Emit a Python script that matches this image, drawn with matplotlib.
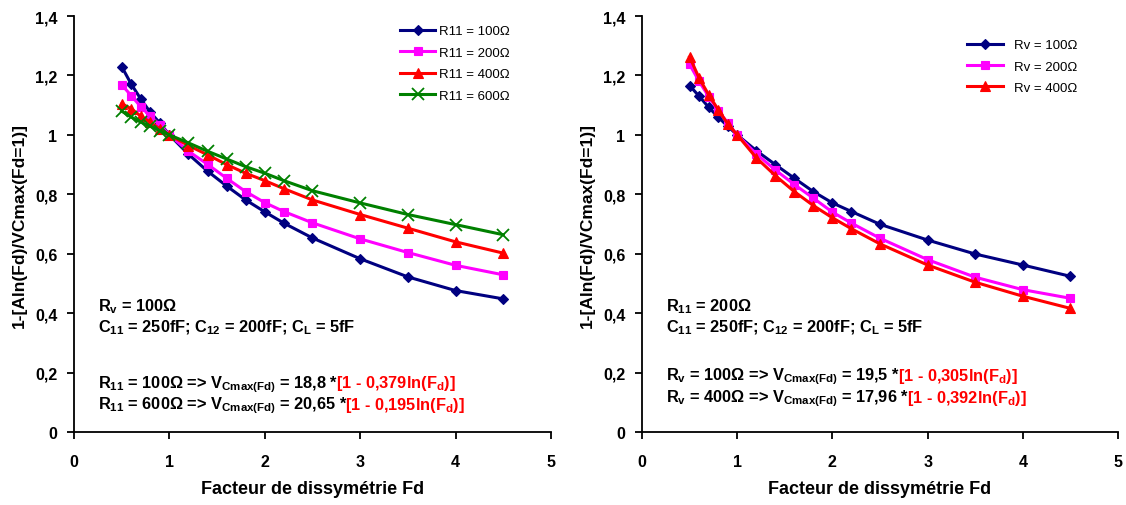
import numpy as np
import matplotlib
matplotlib.use('Agg')
import matplotlib.pyplot as plt
from matplotlib.ticker import FuncFormatter, MultipleLocator

plt.rcParams['font.family'] = ['Liberation Sans', 'DejaVu Sans']
plt.rcParams['mathtext.fontset'] = 'custom'
plt.rcParams['mathtext.bf'] = 'Liberation Sans:bold'
plt.rcParams['mathtext.rm'] = 'Liberation Sans:bold'
plt.rcParams['mathtext.it'] = 'Liberation Sans:bold'
plt.rcParams['mathtext.default'] = 'bf'

# Facteur de dissymetrie
fd = [0.5, 0.6, 0.7, 0.8, 0.9, 1.0, 1.2, 1.4, 1.6, 1.8, 2.0, 2.2, 2.5, 3.0, 3.5, 4.0, 4.5]

# left panel: Rv = 100 ohm, varying R11
r11_100 = [1.230, 1.171, 1.121, 1.076, 1.040, 1.0, 0.935, 0.878, 0.828, 0.781, 0.741, 0.703, 0.653, 0.583, 0.522, 0.476, 0.448]
r11_200 = [1.169, 1.132, 1.095, 1.063, 1.034, 1.0, 0.945, 0.901, 0.854, 0.809, 0.772, 0.742, 0.704, 0.650, 0.604, 0.561, 0.529]
r11_400 = [1.105, 1.088, 1.063, 1.043, 1.020, 1.0, 0.964, 0.933, 0.900, 0.871, 0.846, 0.819, 0.781, 0.732, 0.686, 0.640, 0.602]
r11_600 = [1.080, 1.060, 1.043, 1.029, 1.014, 1.0, 0.973, 0.945, 0.919, 0.893, 0.871, 0.846, 0.812, 0.771, 0.732, 0.698, 0.664]

# right panel: R11 = 200 ohm, varying Rv
rv_100 = [1.166, 1.130, 1.093, 1.060, 1.029, 1.0, 0.947, 0.900, 0.854, 0.809, 0.771, 0.742, 0.699, 0.646, 0.599, 0.562, 0.524]
rv_200 = [1.237, 1.180, 1.129, 1.082, 1.040, 1.0, 0.936, 0.882, 0.833, 0.787, 0.740, 0.703, 0.652, 0.580, 0.521, 0.479, 0.450]
rv_400 = [1.262, 1.191, 1.135, 1.085, 1.037, 1.0, 0.923, 0.863, 0.809, 0.762, 0.721, 0.684, 0.633, 0.562, 0.504, 0.457, 0.416]

left_series = [
    ('R11 = 100Ω', r11_100, '#000080', 'D', 5),
    ('R11 = 200Ω', r11_200, '#FF00FF', 's', 6),
    ('R11 = 400Ω', r11_400, '#FF0000', '^', 7),
    ('R11 = 600Ω', r11_600, '#008000', 'x', 9),
]
right_series = [
    ('Rv = 100Ω', rv_100, '#000080', 'D', 5),
    ('Rv = 200Ω', rv_200, '#FF00FF', 's', 6),
    ('Rv = 400Ω', rv_400, '#FF0000', '^', 7),
]

left_notes = [
    (0.411, r'R$_{v}$ = 100Ω', None),
    (0.340, r'C$_{11}$ = 250fF; C$_{12}$ = 200fF; C$_{L}$ = 5fF', None),
    (0.150, r'R$_{11}$ = 100Ω => V$_{Cmax(Fd)}$ = 18,8 *', r'[1 - 0,379ln(F$_{d}$)]'),
    (0.079, r'R$_{11}$ = 600Ω => V$_{Cmax(Fd)}$ = 20,65 *', r'[1 - 0,195ln(F$_{d}$)]'),
]
right_notes = [
    (0.411, r'R$_{11}$ = 200Ω', None),
    (0.340, r'C$_{11}$ = 250fF; C$_{12}$ = 200fF; C$_{L}$ = 5fF', None),
    (0.176, r'R$_{v}$ = 100Ω => V$_{Cmax(Fd)}$ = 19,5 *', r'[1 - 0,305ln(F$_{d}$)]'),
    (0.102, r'R$_{v}$ = 400Ω => V$_{Cmax(Fd)}$ = 17,96 *', r'[1 - 0,392ln(F$_{d}$)]'),
]


def comma_fmt(v, pos):
    return ('%g' % round(v, 2)).replace('.', ',')


def draw_panel(ax, series, notes, legend_x, legend_y, text_pad):
    for label, vals, color, marker, ms in series:
        ax.plot(fd, vals, color=color, marker=marker, markersize=ms, lw=2.2,
                markeredgewidth=1.3 if marker == 'x' else 0.8, label=label)

    ax.set_xlim(0, 5)
    ax.set_ylim(0, 1.4)
    ax.xaxis.set_major_locator(MultipleLocator(1))
    ax.yaxis.set_major_locator(MultipleLocator(0.2))
    ax.yaxis.set_major_formatter(FuncFormatter(comma_fmt))
    ax.spines['top'].set_visible(False)
    ax.spines['right'].set_visible(False)
    for s in ('left', 'bottom'):
        ax.spines[s].set_linewidth(1.3)
    ax.tick_params(direction='out', length=5, width=1.3, labelsize=11.5)
    ax.tick_params(axis='x', pad=11)
    ax.tick_params(axis='y', pad=7)
    for lab in ax.get_xticklabels() + ax.get_yticklabels():
        lab.set_fontweight('bold')

    ax.set_xlabel('Facteur de dissymétrie Fd', fontsize=13, fontweight='bold', labelpad=8)
    ax.set_ylabel('1-[Aln(Fd)/VCmax(Fd=1)]', fontsize=12.5, fontweight='bold', labelpad=6)

    ax.legend(loc='upper left', bbox_to_anchor=(legend_x, legend_y), frameon=False,
              fontsize=9.5, handlelength=2.7, handletextpad=text_pad, labelspacing=0.7,
              borderaxespad=0, borderpad=0)

    for y, black, red in notes:
        t = ax.text(0.25, y, black, fontsize=11.8, fontweight='bold', va='baseline', ha='left')
        if red:
            ax.annotate(red, xy=(1, y), xycoords=(t, 'data'), xytext=(-1.5, 0),
                        textcoords='offset points', fontsize=11.8, fontweight='bold',
                        color='#FF0000', va='baseline', ha='left')


fig = plt.figure(figsize=(11.26, 5.06), dpi=100)
ax1 = fig.add_axes([0.0657, 0.1443, 0.4236, 0.822])
ax2 = fig.add_axes([0.5702, 0.1443, 0.4227, 0.822])

draw_panel(ax1, left_series, left_notes, 0.683, 0.978, 0.3)
draw_panel(ax2, right_series, right_notes, 0.683, 0.945, 0.85)

fig.savefig('out.png', dpi=100)
